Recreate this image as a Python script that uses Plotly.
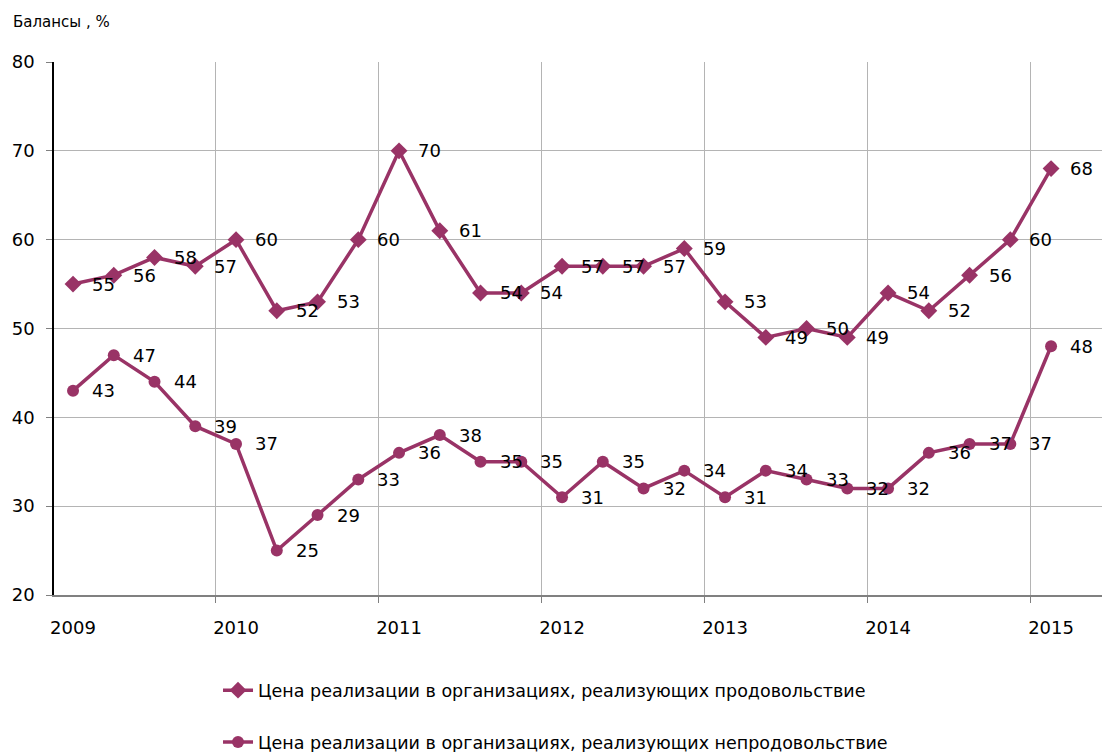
import plotly.graph_objects as go

years = ["2009", "2010", "2011", "2012", "2013", "2014", "2015"]
food = [55, 56, 58, 57, 60, 52, 53, 60, 70, 61, 54, 54, 57, 57, 57, 59,
        53, 49, 50, 49, 54, 52, 56, 60, 68]
nonfood = [43, 47, 44, 39, 37, 25, 29, 33, 36, 38, 35, 35, 31, 35, 32, 34,
           31, 34, 33, 32, 32, 36, 37, 37, 48]
name_food = "Цена реализации в организациях, реализующих продовольствие"
name_nonfood = "Цена реализации в организациях, реализующих непродовольствие"

COLOR = "#993366"
FONT = "DejaVu Sans"
x = list(range(len(food)))

fig = go.Figure()
fig.add_trace(go.Scatter(x=x, y=food, mode="lines+markers", name=name_food,
                         legendgroup="a",
                         line=dict(color=COLOR, width=3.5),
                         marker=dict(symbol="diamond", size=13, color=COLOR)))
fig.add_trace(go.Scatter(x=x, y=nonfood, mode="lines+markers", name=name_nonfood,
                         legendgroup="b",
                         line=dict(color=COLOR, width=3.5),
                         marker=dict(symbol="circle", size=12, color=COLOR)))

for series in (food, nonfood):
    for i, v in enumerate(series):
        fig.add_annotation(x=i, y=v, text=str(v), showarrow=False,
                           xanchor="left", yanchor="middle", xshift=17,
                           font=dict(family=FONT, size=18, color="black"))

fig.add_annotation(xref="paper", yref="paper", x=-0.041, y=1.075,
                   text="Балансы , %", showarrow=False, xanchor="left",
                   yanchor="middle", font=dict(family=FONT, size=15, color="black"))

fig.update_layout(
    width=1102, height=752,
    margin=dict(l=54, r=0, t=62, b=157),
    paper_bgcolor="white", plot_bgcolor="white",
    font=dict(family=FONT, size=18, color="black"),
    showlegend=True,
    legend=dict(orientation="v", xref="paper", yref="container",
                x=0.1565, xanchor="left", y=0.106, yanchor="top",
                tracegroupgap=26, borderwidth=0,
                font=dict(family=FONT, size=17.5, color="black"),
                bgcolor="rgba(0,0,0,0)"),
    xaxis=dict(range=[-0.467, 25.25], tickmode="array",
               tickvals=[4 * k for k in range(len(years))], ticktext=years,
               showgrid=False, zeroline=False, ticks="",
               ticklabelstandoff=16,
               showline=True, linecolor="#808080", linewidth=1.5,
               minor=dict(tick0=-0.5, dtick=4, showgrid=True, gridcolor="#b4b4b4",
                          gridwidth=1.2, ticks="outside", ticklen=6,
                          tickcolor="#808080")),
    yaxis=dict(range=[20, 80], dtick=10, showgrid=True, gridcolor="#b4b4b4",
               gridwidth=1.2, zeroline=False, showline=True, linecolor="black",
               linewidth=1.5, ticks="outside", ticklen=6, tickcolor="#808080",
               ticklabelstandoff=8),
)

fig.write_html("out.html")
